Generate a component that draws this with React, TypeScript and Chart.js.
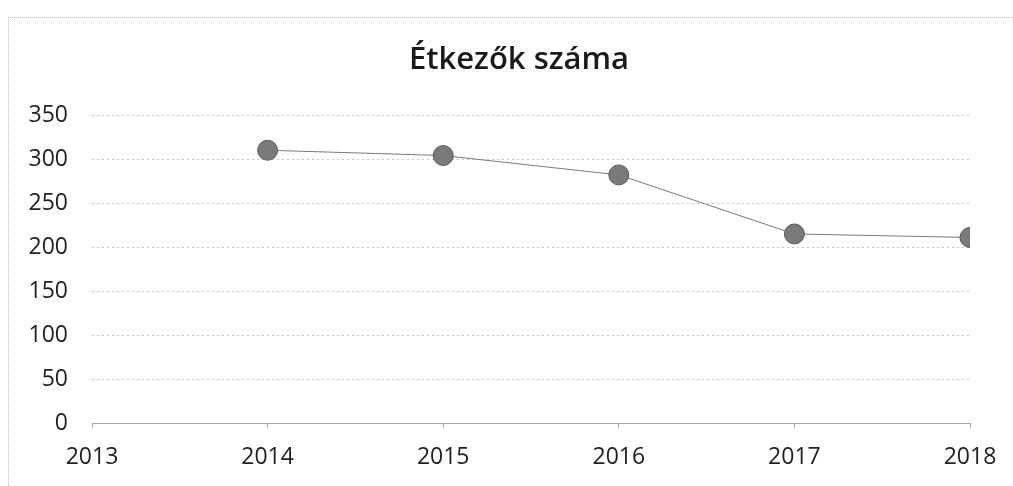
import React, { useEffect, useRef } from "react";
import { Chart, registerables } from "chart.js";

Chart.register(...registerables);

const titleText = "Étkezők száma";
const years = [2014, 2015, 2016, 2017, 2018];
const diners = [310, 304, 282, 215, 211];
const xMin = 2013;
const xMax = 2018;
const yMin = 0;
const yMax = 350;
const yStep = 50;

const FONT = "'Open Sans', 'DejaVu Sans', sans-serif";

const titlePlugin = {
  id: "placedTitle",
  afterDraw(chart: any) {
    const ctx = chart.ctx;
    ctx.save();
    ctx.font = `600 31px ${FONT}`;
    ctx.fillStyle = "#1a1a1a";
    ctx.textAlign = "center";
    ctx.textBaseline = "middle";
    ctx.fillText(titleText, 519, 60);
    ctx.restore();
  },
};

export default function App() {
  const canvasRef = useRef<HTMLCanvasElement | null>(null);

  useEffect(() => {
    const canvas = canvasRef.current;
    if (!canvas) return;
    const chart = new Chart(canvas, {
      type: "line",
      data: {
        datasets: [
          {
            label: titleText,
            data: years.map((y, i) => ({ x: y, y: diners[i] })),
            borderColor: "#7a7a7a",
            borderWidth: 1,
            pointRadius: 10,
            pointHoverRadius: 10,
            pointBackgroundColor: "#7a7a7a",
            pointBorderColor: "#5a5a5a",
            pointBorderWidth: 1,
            tension: 0,
            fill: false,
          },
        ],
      },
      options: {
        responsive: false,
        animation: false,
        layout: { padding: { top: 115, left: 0, right: 43, bottom: 0 } },
        plugins: {
          legend: { display: false },
          tooltip: { enabled: false },
          title: { display: false },
        },
        scales: {
          x: {
            type: "linear",
            min: xMin,
            max: xMax,
            ticks: {
              stepSize: 1,
              color: "#222",
              font: { family: FONT, size: 23 },
              padding: 15,
              maxRotation: 0,
              callback: (v: any) => String(v),
            },
            grid: {
              drawOnChartArea: false,
              drawTicks: true,
              tickLength: 5,
              color: "#b0b0b0",
            },
            border: { display: true, color: "#a8a8a8", dash: [2, 2], width: 1 },
          },
          y: {
            min: yMin,
            max: yMax,
            afterFit: (scale: any) => {
              scale.width = 92;
            },
            ticks: {
              stepSize: yStep,
              color: "#222",
              font: { family: FONT, size: 23 },
              padding: 24,
            },
            grid: {
              drawTicks: false,
              color: "#c4c4c4",
              lineWidth: 1,
            },
            border: { display: false, dash: [2, 3] },
          },
        },
      },
      plugins: [titlePlugin],
    });
    return () => chart.destroy();
  }, []);

  return (
    <div style={{ position: "fixed", left: 0, top: 0, width: 1013, height: 486, background: "#fff" }}>
      <div
        style={{
          position: "absolute",
          left: 8,
          top: 17,
          right: 0,
          bottom: 0,
          borderTop: "1px dotted #bdbdbd",
          borderLeft: "1px dotted #bdbdbd",
        }}
      />
      <canvas ref={canvasRef} width={1013} height={486} style={{ position: "absolute", left: 0, top: 0 }} />
    </div>
  );
}
